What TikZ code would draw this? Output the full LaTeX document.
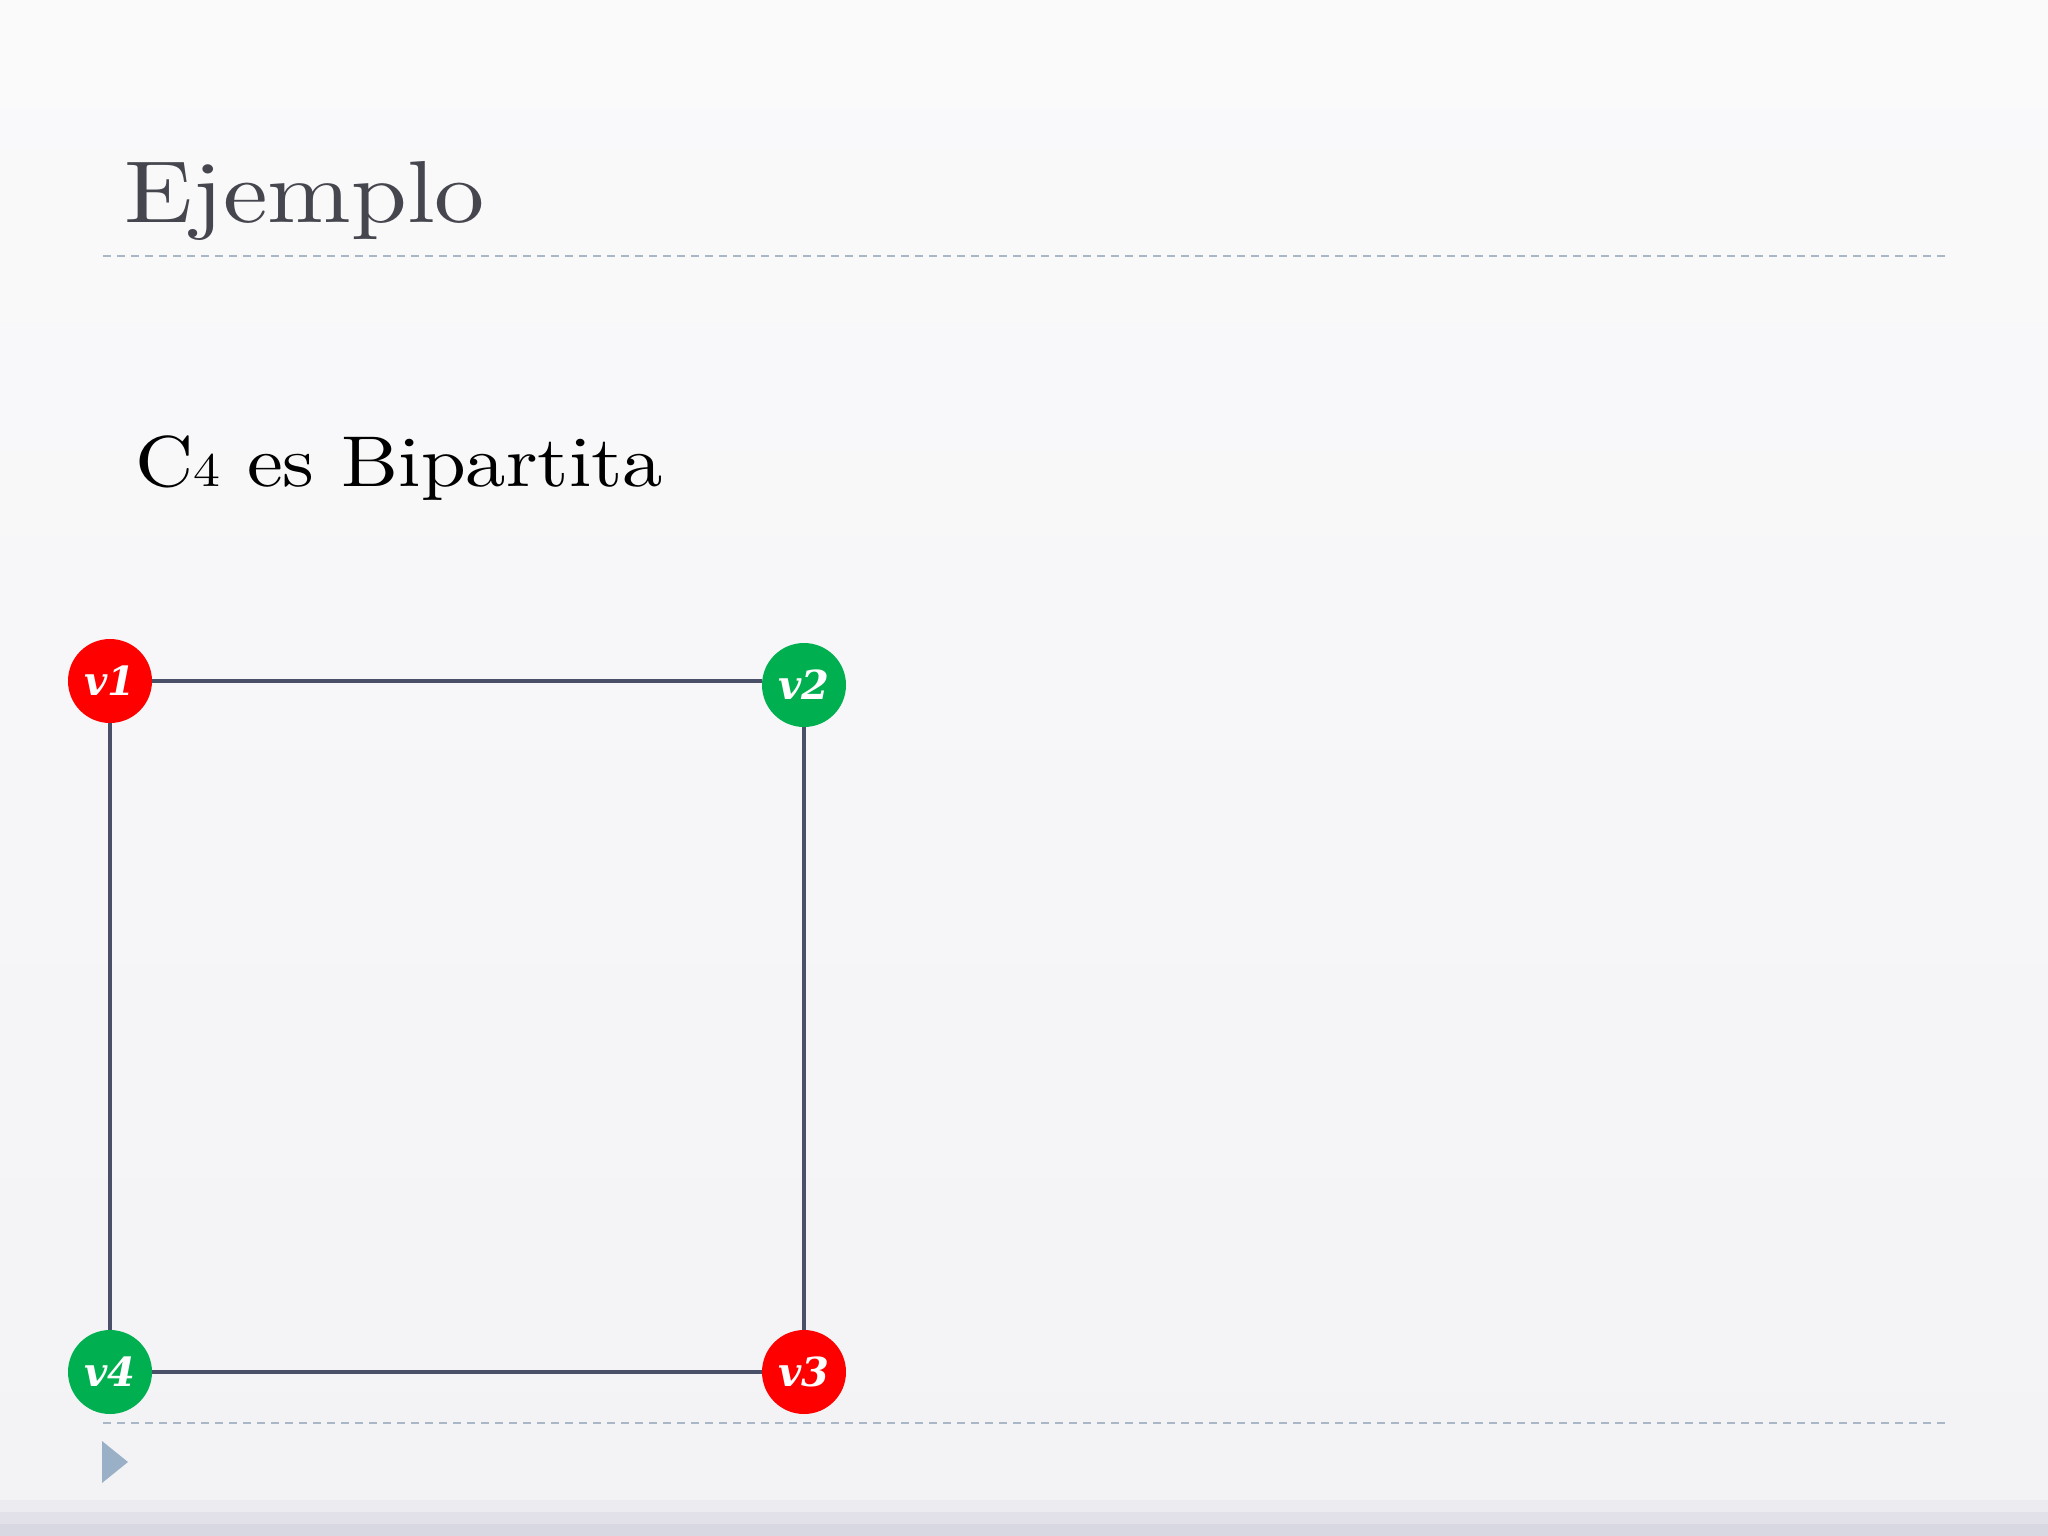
\documentclass[tikz,border=0pt]{standalone}
\usepackage{fontspec}
\newfontfamily\labelfont{DejaVu Serif}
\newfontfamily\lmten{lmroman10-regular.otf}
\definecolor{bgtop}{HTML}{FAFAFB}
\definecolor{bgbot}{HTML}{F3F3F6}
\definecolor{band1}{HTML}{ECEBF0}
\definecolor{band2}{HTML}{E2E1EA}
\definecolor{band3}{HTML}{D8D8E3}
\definecolor{titlecol}{HTML}{46464F}
\definecolor{rulecol}{HTML}{A9B7C6}
\definecolor{edgecol}{HTML}{4A5068}
\definecolor{vred}{HTML}{FF0000}
\definecolor{vgreen}{HTML}{00B050}
\definecolor{tricol}{HTML}{9AB0C6}
\tikzset{
  vertex/.style={circle, minimum size=84pt, inner sep=0pt, text=white,
    font=\labelfont\bfseries\itshape\fontsize{40}{40}\selectfont},
  redv/.style={vertex, fill=vred},
  greenv/.style={vertex, fill=vgreen},
  edge/.style={draw=edgecol, line width=3.5pt},
  rulestyle/.style={draw=rulecol, line width=2pt, dash pattern=on 8pt off 6pt},
}
\begin{document}
\begin{tikzpicture}[x=1pt,y=-1pt]
\useasboundingbox (0,0) rectangle (2048,1536);
\shade[top color=bgtop, bottom color=bgbot] (0,0) rectangle (2048,1500);
\fill[band1] (0,1500) rectangle (2048,1512);
\fill[band2] (0,1512) rectangle (2048,1524);
\fill[band3] (0,1524) rectangle (2048,1536);
% title and rules
\node[anchor=base west, inner sep=0pt, text=titlecol] (title) at (124,222)
  {\scalebox{1.14}[1]{\lmten\fontsize{88}{88}\selectfont Ejemplo}};
\coordinate (r1a) at (103,256); \coordinate (r1b) at (1947,256);
\coordinate (r2a) at (103,1423); \coordinate (r2b) at (1947,1423);
\draw[rulestyle] (r1a) -- (r1b);
\draw[rulestyle] (r2a) -- (r2b);
\fill[tricol] (102,1441) -- (128,1462) -- (102,1483) -- cycle;
% subtitle
\node[anchor=base west, inner sep=0pt, text=black] (sub) at (135,486)
  {\scalebox{1.12}[1]{\lmten\fontsize{72}{72}\selectfont C{\fontsize{48}{48}\selectfont 4} es Bipartita}};
% graph
\node[redv] (v1) at (110,681) {v1};
\node[greenv] (v2) at (804,685) {v2};
\node[redv] (v3) at (804,1372) {v3};
\node[greenv] (v4) at (110,1372) {v4};
\draw[edge] (v1) -- (v1 -| v2.west);
\draw[edge] (v2) -- (v3);
\draw[edge] (v3) -- (v4);
\draw[edge] (v4) -- (v1);
\end{tikzpicture}
\end{document}
